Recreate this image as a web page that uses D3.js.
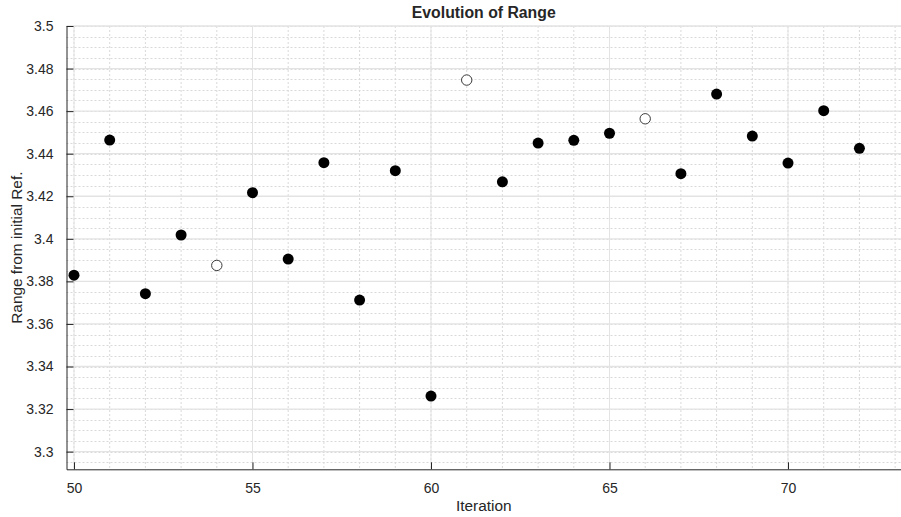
<!DOCTYPE html>
<html>
<head>
<meta charset="utf-8">
<script src="https://cdn.jsdelivr.net/npm/d3@7"></script>
<style>
    body { margin: 0; background: #fff; }
    text { font-family: "Liberation Sans", Arial, sans-serif; fill: #262626; }
</style>
</head>
<body>
<div id="chart"></div>
<script>
var iterations = [50, 51, 52, 53, 54, 55, 56, 57, 58, 59, 60, 61, 62, 63, 64, 65, 66, 67, 68, 69, 70, 71, 72];
var ranges = [3.3829, 3.4464, 3.3742, 3.4018, 3.3875, 3.4217, 3.3905, 3.4358, 3.3712, 3.4320, 3.3261,
    3.4746, 3.4268, 3.4450, 3.4463, 3.4496, 3.4564, 3.4306, 3.4680, 3.4483, 3.4356, 3.4602, 3.4425];
// hollow markers
var hollow = [54, 61, 66];
var xTicks = [50, 55, 60, 65, 70];
var yTicks = [3.3, 3.32, 3.34, 3.36, 3.38, 3.4, 3.42, 3.44, 3.46, 3.48, 3.5];

var width = 901,
    height = 517,
    plotLeft = 66.5,
    plotTop = 26,
    plotBottom = 469.3,
    svg, x, y;

function setup() {
    svg = d3
        .select("#chart")
        .append("svg")
        .attr("width", width)
        .attr("height", height);

    x = d3.scaleLinear().domain([49.79, 73.165]).range([plotLeft, width]);
    y = d3.scaleLinear().domain([3.2917, 3.5]).range([plotBottom, plotTop]);

    drawGrid();
    drawPoints();
    drawAxes();
}

function drawGrid() {
    var g = svg.append("g").attr("class", "grid");

    // minor grid, dotted
    g.selectAll("line.xminor")
        .data(d3.range(50, 74))
        .enter()
        .append("line")
        .attr("x1", (d) => x(d)).attr("x2", (d) => x(d))
        .attr("y1", plotTop).attr("y2", plotBottom)
        .attr("stroke", "#d9d9d9")
        .attr("stroke-dasharray", "2,2");

    g.selectAll("line.yminor")
        .data(d3.range(0, 42).map((i) => 3.295 + i * 0.005))
        .enter()
        .append("line")
        .attr("x1", plotLeft).attr("x2", width)
        .attr("y1", (d) => Math.round(y(d)) + 0.5).attr("y2", (d) => Math.round(y(d)) + 0.5)
        .attr("stroke", "#d9d9d9")
        .attr("stroke-dasharray", "2,2");

    // major grid
    g.selectAll("line.xmajor")
        .data(xTicks)
        .enter()
        .append("line")
        .attr("x1", (d) => x(d)).attr("x2", (d) => x(d))
        .attr("y1", plotTop).attr("y2", plotBottom)
        .attr("stroke", "#e3e3e3");

    g.selectAll("line.ymajor")
        .data(yTicks)
        .enter()
        .append("line")
        .attr("x1", plotLeft).attr("x2", width)
        .attr("y1", (d) => y(d)).attr("y2", (d) => y(d))
        .attr("stroke", "#e3e3e3")
        .attr("stroke-width", 1.3);
}

function drawPoints() {
    svg.append("g")
        .selectAll("circle")
        .data(iterations)
        .enter()
        .append("circle")
        .attr("cx", (d) => x(d))
        .attr("cy", (d, i) => y(ranges[i]))
        .attr("r", (d) => (hollow.includes(d) ? 5.2 : 5.5))
        .attr("fill", (d) => (hollow.includes(d) ? "#fff" : "#000"))
        .attr("stroke", (d) => (hollow.includes(d) ? "#3a3a3a" : "none"))
        .attr("stroke-width", 1);
}

function drawAxes() {
    var xAxis = d3.axisBottom(x)
        .tickValues(xTicks)
        .tickSizeInner(-7)
        .tickSizeOuter(0)
        .tickPadding(14);

    var yAxis = d3.axisLeft(y)
        .tickValues(yTicks)
        .tickSizeInner(-7)
        .tickSizeOuter(0)
        .tickPadding(13)
        .tickFormat((d) => String(+d.toFixed(2)));

    var gx = svg.append("g")
        .attr("transform", "translate(0," + plotBottom + ")")
        .call(xAxis);
    var gy = svg.append("g")
        .attr("transform", "translate(" + plotLeft + ",0)")
        .call(yAxis);

    [gx, gy].forEach(function (g) {
        g.select(".domain").attr("stroke", "#262626");
        g.selectAll(".tick line").attr("stroke", "#262626");
        g.selectAll(".tick text")
            .style("font-size", "14px")
            .style("font-family", "'Liberation Sans', Arial, sans-serif")
            .attr("fill", "#262626");
    });

    svg.append("text")
        .attr("x", (plotLeft + width) / 2)
        .attr("y", 511)
        .attr("text-anchor", "middle")
        .style("font-size", "15.4px")
        .text("Iteration");

    svg.append("text")
        .attr("transform", "translate(22," + (plotTop + plotBottom) / 2 + ") rotate(-90)")
        .attr("text-anchor", "middle")
        .style("font-size", "15.4px")
        .text("Range from initial Ref.");

    svg.append("text")
        .attr("x", (plotLeft + width) / 2)
        .attr("y", 18)
        .attr("text-anchor", "middle")
        .style("font-size", "15.8px")
        .style("font-weight", "bold")
        .text("Evolution of Range");
}

setup();
</script>
</body>
</html>
